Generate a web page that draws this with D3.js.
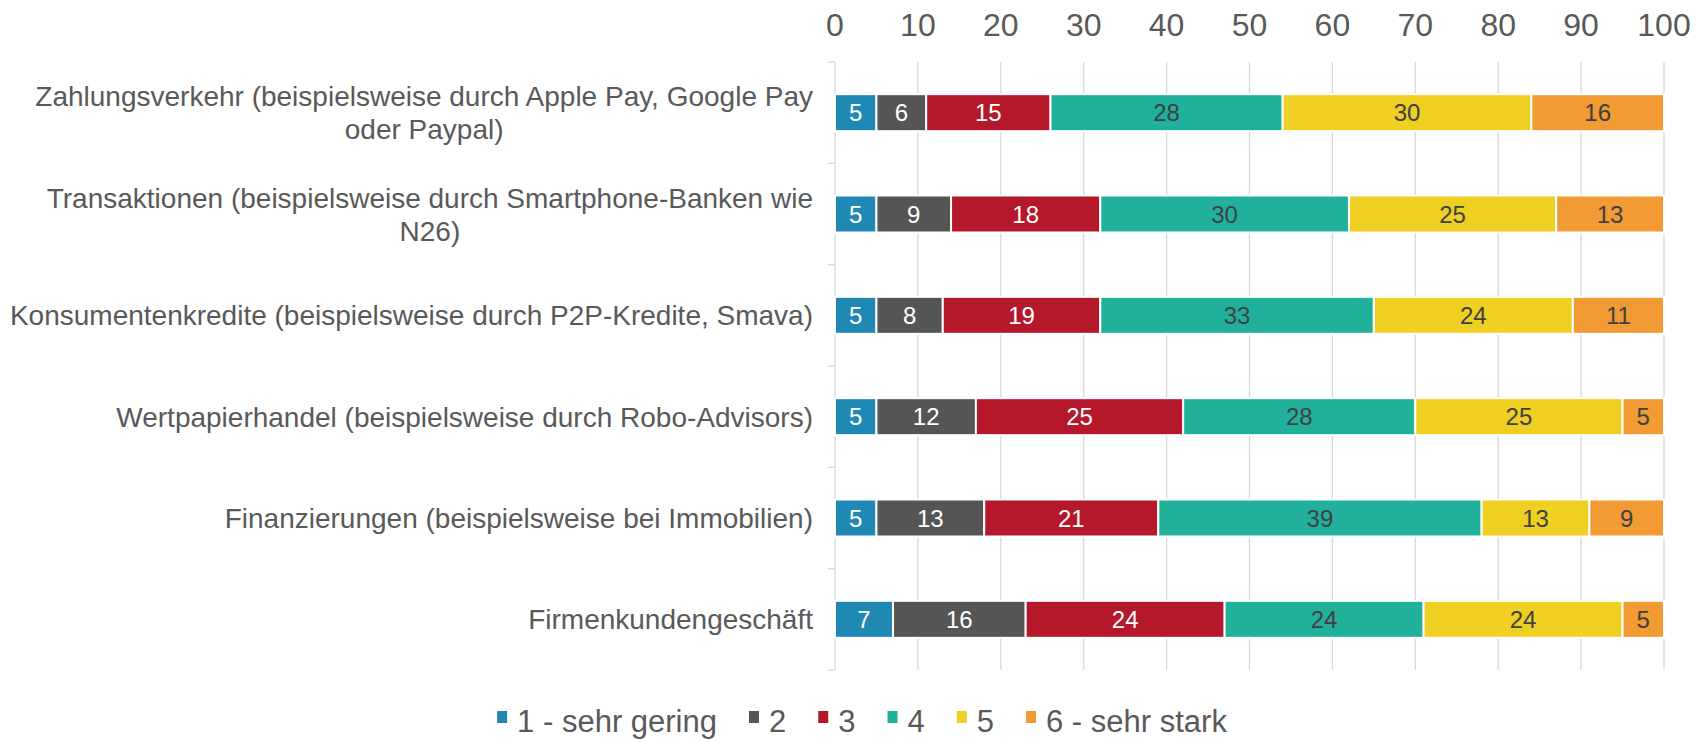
<!DOCTYPE html>
<html>
<head>
<meta charset="utf-8">
<script src="https://cdn.jsdelivr.net/npm/d3@7"></script>
<style>
  body { margin: 0; background: #fff; }
  text { font-family: "Liberation Sans", Arial, sans-serif; }
</style>
</head>
<body>
<div id="chart"></div>
<script>
var categories = [
  ['Zahlungsverkehr (beispielsweise durch Apple Pay, Google Pay', 'oder Paypal)'],
  ['Transaktionen (beispielsweise durch Smartphone-Banken wie', 'N26)'],
  ['Konsumentenkredite (beispielsweise durch P2P-Kredite, Smava)'],
  ['Wertpapierhandel (beispielsweise durch Robo-Advisors)'],
  ['Finanzierungen (beispielsweise bei Immobilien)'],
  ['Firmenkundengeschäft']
];
var seriesNames = ['1 - sehr gering', '2', '3', '4', '5', '6 - sehr stark'];
var s1 = [5, 5, 5, 5, 5, 7];
var s2 = [6, 9, 8, 12, 13, 16];
var s3 = [15, 18, 19, 25, 21, 24];
var s4 = [28, 30, 33, 28, 39, 24];
var s5 = [30, 25, 24, 25, 13, 24];
var s6 = [16, 13, 11, 5, 9, 5];
var xTicks = [0, 10, 20, 30, 40, 50, 60, 70, 80, 90, 100];

var colors = ['#1f88b3', '#555555', '#b5172b', '#21b19b', '#eecf22', '#f29a33'];
var labelColors = ['#ffffff', '#ffffff', '#ffffff', '#404040', '#404040', '#404040'];

var width = 1696,
    height = 742;

var allSeries = [s1, s2, s3, s4, s5, s6];
var rows = categories.map(function(c, i) {
  var r = { idx: i };
  seriesNames.forEach(function(k, j) { r[k] = allSeries[j][i]; });
  return r;
});
var stacked = d3.stack().keys(seriesNames)(rows);

var xScale = d3.scaleLinear()
    .domain([0, 100])
    .range([835, 1664]);

var yScale = d3.scaleBand()
    .domain(d3.range(categories.length))
    .range([62, 670])
    .paddingInner(0.635)
    .paddingOuter(0.3175);

var svg = d3.select('#chart').append('svg')
    .attr('width', width)
    .attr('height', height);

// gridlines
svg.append('g').selectAll('line').data(xTicks.slice(1))
  .enter().append('line')
    .attr('x1', function(d) { return xScale(d); })
    .attr('x2', function(d) { return xScale(d); })
    .attr('y1', 62)
    .attr('y2', 670)
    .style('stroke', '#d9d9d9')
    .style('stroke-width', 1.3);

// left axis with outward ticks
svg.append('line')
    .attr('x1', xScale(0)).attr('x2', xScale(0))
    .attr('y1', 62).attr('y2', 670)
    .style('stroke', '#d9d9d9').style('stroke-width', 1.3);
var step = yScale.step();
svg.append('g').selectAll('line').data(d3.range(categories.length + 1))
  .enter().append('line')
    .attr('x1', xScale(0) - 7).attr('x2', xScale(0))
    .attr('y1', function(d) { return 62 + d * step; })
    .attr('y2', function(d) { return 62 + d * step; })
    .style('stroke', '#d9d9d9').style('stroke-width', 1.3);

// top axis labels
svg.append('g').selectAll('text').data(xTicks)
  .enter().append('text')
    .attr('x', function(d) { return xScale(d); })
    .attr('y', 36)
    .attr('text-anchor', 'middle')
    .style('font-size', '32px')
    .style('fill', '#595959')
    .text(function(d) { return d; });

// bars
var groups = svg.append('g').selectAll('g').data(stacked)
  .enter().append('g')
    .style('fill', function(d, i) { return colors[i]; });

groups.selectAll('rect').data(function(d) { return d; })
  .enter().append('rect')
    .attr('x', function(d) { return xScale(d[0]); })
    .attr('width', function(d) { return xScale(d[1]) - xScale(d[0]); })
    .attr('y', function(d) { return yScale(d.data.idx); })
    .attr('height', yScale.bandwidth())
    .style('stroke', '#fff')
    .style('stroke-width', 2);

groups.each(function(s, si) {
  d3.select(this).selectAll('text').data(s)
    .enter().append('text')
      .attr('x', function(d) { return (xScale(d[0]) + xScale(d[1])) / 2; })
      .attr('y', function(d) { return yScale(d.data.idx) + yScale.bandwidth() / 2; })
      .attr('dy', '0.36em')
      .attr('text-anchor', 'middle')
      .style('font-size', '24px')
      .style('fill', labelColors[si])
      .text(function(d) { return d[1] - d[0]; });
});

// category labels
var labelRight = 813;
categories.forEach(function(lines, i) {
  var cy = yScale(i) + yScale.bandwidth() / 2;
  var lineH = 33;
  var g = svg.append('g');
  var texts = g.selectAll('text').data(lines)
    .enter().append('text')
      .attr('y', function(d, j) { return cy + (j - (lines.length - 1) / 2) * lineH; })
      .attr('dy', '0.36em')
      .attr('text-anchor', 'middle')
      .style('font-size', '28px')
      .style('fill', '#595959')
      .text(function(d) { return d; });
  var maxW = 0;
  texts.each(function() { maxW = Math.max(maxW, this.getComputedTextLength()); });
  texts.attr('x', labelRight - maxW / 2);
});

// legend
var legend = svg.append('g');
var items = legend.selectAll('g').data(seriesNames)
  .enter().append('g');
items.append('rect')
    .attr('width', 10).attr('height', 12)
    .attr('y', -10)
    .style('fill', function(d, i) { return colors[i]; });
items.append('text')
    .attr('x', 20)
    .attr('y', 0)
    .attr('dy', '0.36em')
    .style('font-size', '31px')
    .style('fill', '#595959')
    .text(function(d) { return d; });
var gap = 32;
var pos = 0;
var offsets = [];
items.each(function() {
  offsets.push(pos);
  pos += 20 + d3.select(this).select('text').node().getComputedTextLength() + gap;
});
var total = pos - gap;
var startX = 862 - total / 2;
items.attr('transform', function(d, i) { return 'translate(' + (startX + offsets[i]) + ',721)'; });
</script>
</body>
</html>
